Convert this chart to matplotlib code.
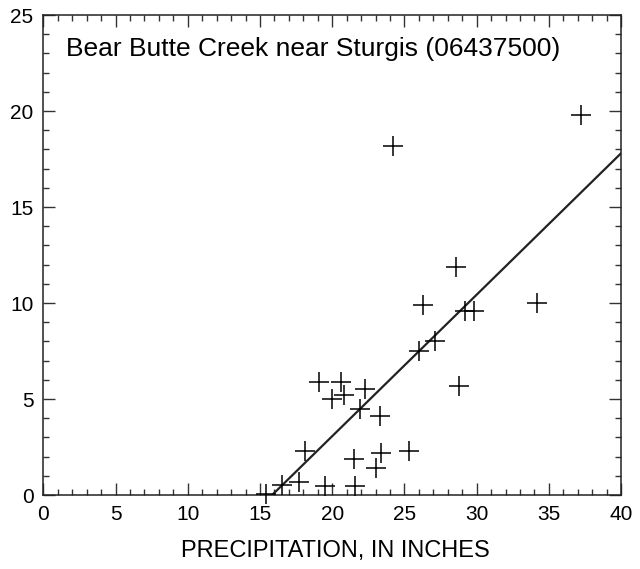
import numpy as np
import matplotlib.pyplot as plt
from matplotlib.ticker import MultipleLocator

# precipitation (inches) and streamflow values
precip = [37.2, 24.2, 28.6, 26.3, 34.2, 29.2, 29.8, 27.1, 26.0, 28.8,
          19.1, 20.6, 20.0, 20.8, 22.3, 21.9, 23.3, 25.3, 23.4, 21.5,
          23.0, 18.1, 17.7, 16.5, 15.4, 19.5, 21.6]
flow = [19.8, 18.2, 11.9, 9.9, 10.0, 9.6, 9.6, 8.0, 7.5, 5.7,
        5.9, 5.9, 5.0, 5.2, 5.5, 4.5, 4.1, 2.3, 2.2, 1.9,
        1.4, 2.3, 0.7, 0.5, 0.05, 0.45, 0.45]

# regression line end points
line_x = [15.84, 40.0]
line_y = [0.0, 17.8]

plt.rcParams['font.family'] = ['Liberation Sans', 'DejaVu Sans']

fig = plt.figure(figsize=(6.4, 5.69), dpi=100)
ax = fig.add_axes([0.0677, 0.130, 0.9027, 0.8436])

ax.plot(line_x, line_y, color='#222222', lw=1.6, zorder=2)
ax.plot(precip, flow, linestyle='none', marker='+', markersize=14,
        markeredgewidth=1.1, color='black', clip_on=False, zorder=3)

ax.set_xlim(0, 40)
ax.set_ylim(0, 25)
ax.xaxis.set_major_locator(MultipleLocator(5))
ax.xaxis.set_minor_locator(MultipleLocator(1))
ax.yaxis.set_major_locator(MultipleLocator(5))
ax.yaxis.set_minor_locator(MultipleLocator(1))
ax.tick_params(which='both', direction='in', top=True, right=True,
               labelsize=15, width=1, color='#333333')
ax.tick_params(which='major', length=8.5, pad=7)
ax.tick_params(which='minor', length=4.5)
for s in ax.spines.values():
    s.set_linewidth(1.1)
    s.set_color('#222222')

ax.set_xlabel("PRECIPITATION, IN INCHES", fontsize=17)
ax.xaxis.set_label_coords(0.505, -0.094)
ax.text(0.040, 0.9146, "Bear Butte Creek near Sturgis (06437500)",
        transform=ax.transAxes, fontsize=19, va='baseline', ha='left')

fig.savefig("out.png", dpi=100)
